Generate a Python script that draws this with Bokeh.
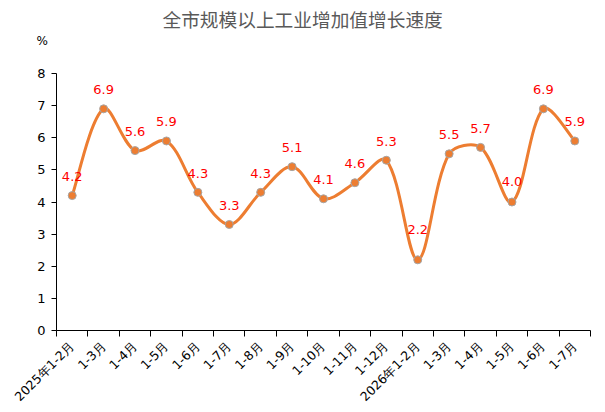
import math
from bokeh.plotting import figure
from bokeh.models import ColumnDataSource, Range1d, FixedTicker, LabelSet, Title
from bokeh.core.properties import value
from bokeh.embed import file_html
from bokeh.resources import INLINE

categories = ["2025年1-2月", "1-3月", "1-4月", "1-5月", "1-6月", "1-7月", "1-8月", "1-9月",
              "1-10月", "1-11月", "1-12月", "2026年1-2月", "1-3月", "1-4月", "1-5月", "1-6月", "1-7月"]
values = [4.2, 6.9, 5.6, 5.9, 4.3, 3.3, 4.3, 5.1, 4.1, 4.6, 5.3, 2.2, 5.5, 5.7, 4.0, 6.9, 5.9]
y_ticks = [0, 1, 2, 3, 4, 5, 6, 7, 8]
title_text = "全市规模以上工业增加值增长速度"
unit_text = "%"

# label placement (style): pixel distance above each point
label_dy = [19] * len(values)
label_dy[11] = 30
label_dy[14] = 21

n = len(values)
xs = list(range(n))

# pixel scales (approx) used to weight the smoothing like a spreadsheet chart does
SX, SY = 31.4, 32.1
def dist(a, b):
    return math.hypot((xs[a] - xs[b]) * SX, (values[a] - values[b]) * SY)

x0, y0, x1, y1, cx0, cy0, cx1, cy1 = [], [], [], [], [], [], [], []
for i in range(n - 1):
    pm = max(i - 1, 0)
    pp = min(i + 2, n - 1)
    d01 = dist(pm, i)
    d12 = dist(i, i + 1)
    d23 = dist(i + 1, pp)
    f0 = (d12 / (d01 + d12) if d01 > 0 else 0.5) / 3.0
    f1 = (d12 / (d12 + d23) if d23 > 0 else 0.5) / 3.0
    x0.append(xs[i]); y0.append(values[i])
    x1.append(xs[i + 1]); y1.append(values[i + 1])
    cx0.append(xs[i] + (xs[i + 1] - xs[pm]) * f0)
    cy0.append(values[i] + (values[i + 1] - values[pm]) * f0)
    cx1.append(xs[i + 1] - (xs[pp] - xs[i]) * f1)
    cy1.append(values[i + 1] - (values[pp] - values[i]) * f1)

p = figure(width=605, height=412, output_backend="svg", toolbar_location=None,
           x_range=Range1d(-0.5, n - 0.5), y_range=Range1d(0, 8),
           min_border_left=56, min_border_right=15, min_border_top=73, min_border_bottom=82)
p.outline_line_color = None
p.grid.visible = False
p.background_fill_color = "white"
p.border_fill_color = "white"

# spacer nearest the frame, then the unit label, then the main title (outermost)
p.add_layout(Title(text=" ", standoff=13, text_font="DejaVu Sans", text_font_size="10px"), "above")
p.add_layout(Title(text=unit_text, align="left", offset=-20, standoff=0,
                   text_font="DejaVu Sans", text_font_size="12px", text_font_style="normal",
                   text_color="black"), "above")

p.title.text = title_text
p.title.align = "left"
p.title.offset = 106
p.title.text_font = "Noto Sans CJK SC"
p.title.text_font_size = "18.7px"
p.title.text_font_style = "normal"
p.title.text_color = "#595959"
p.title.standoff = 0

p.bezier(x0=x0, y0=y0, x1=x1, y1=y1, cx0=cx0, cy0=cy0, cx1=cx1, cy1=cy1,
         line_color="#ED7D31", line_width=3)

src = ColumnDataSource(dict(x=xs, y=values, t=[f"{v:.1f}" for v in values], dy=label_dy))
p.scatter("x", "y", source=src, size=8, fill_color="#ED7D31", line_color="#A5A5A5", line_width=1)

labels = LabelSet(x="x", y="y", text="t", source=src, y_offset="dy", text_align="center",
                  text_baseline="middle", text_color="#FF0000", text_font_size="13px",
                  text_font=value("DejaVu Sans"))
p.add_layout(labels)

xa = p.xaxis[0]
xa.ticker = FixedTicker(ticks=xs, minor_ticks=[i - 0.5 for i in range(n + 1)])
xa.major_label_overrides = {i: c for i, c in enumerate(categories)}
xa.major_tick_line_color = None
xa.minor_tick_in = 0
xa.minor_tick_out = 6
xa.minor_tick_line_color = "black"
xa.axis_line_color = "black"
xa.major_label_orientation = math.pi / 4
xa.major_label_text_font = "DejaVu Sans"
xa.major_label_text_font_size = "12.5px"
xa.major_label_text_color = "black"
xa.major_label_standoff = 7

ya = p.yaxis[0]
ya.ticker = FixedTicker(ticks=y_ticks)
ya.minor_tick_line_color = None
ya.major_tick_in = 0
ya.major_tick_out = 5
ya.axis_line_color = "black"
ya.major_tick_line_color = "black"
ya.major_label_text_font = "DejaVu Sans"
ya.major_label_text_font_size = "13px"
ya.major_label_text_color = "black"
ya.major_label_standoff = 6

open("out.html", "w").write(file_html(p, INLINE))
